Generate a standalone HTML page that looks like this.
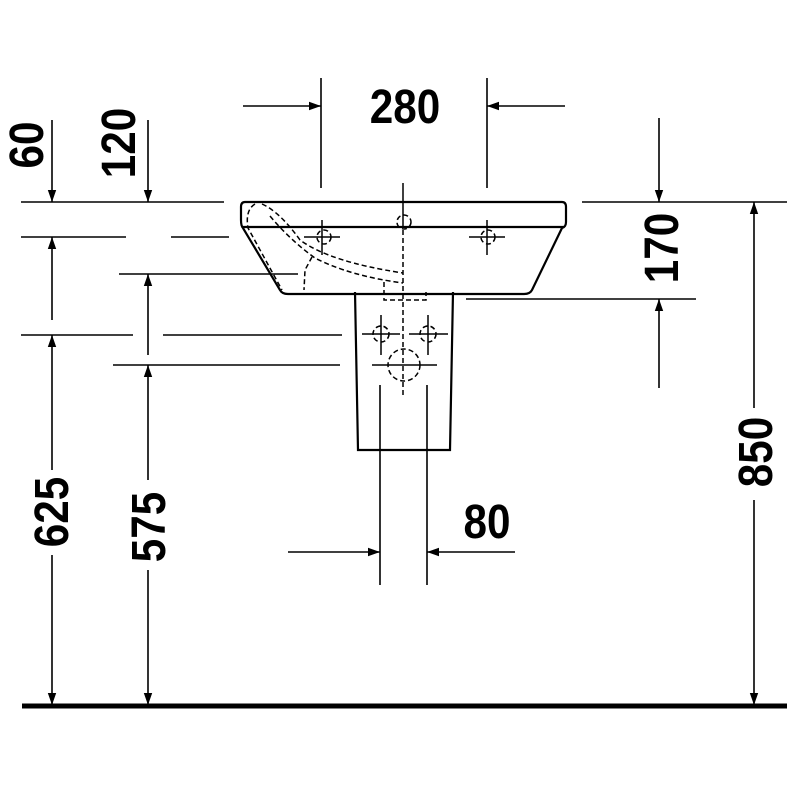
<!DOCTYPE html>
<html><head><meta charset="utf-8"><style>
html,body{margin:0;padding:0;background:#fff;}
svg{display:block;}
text{font-family:"Liberation Sans",sans-serif;font-weight:bold;font-size:48px;fill:#000;}
</style></head><body>
<svg width="788" height="788" viewBox="0 0 788 788" xmlns="http://www.w3.org/2000/svg">
<defs>
<marker id="a" viewBox="0 0 10 10" refX="10" refY="5" markerWidth="12" markerHeight="12" markerUnits="userSpaceOnUse" orient="auto"><path d="M0,1.5 L10,5 L0,8.5 Z" fill="#000"/></marker>
</defs>
<g stroke="#000" stroke-width="1.6" fill="none">
<!-- extension lines left -->
<line x1="21" y1="202" x2="224" y2="202"/>
<line x1="21" y1="237" x2="126" y2="237"/>
<line x1="171" y1="237" x2="229" y2="237"/>
<line x1="119" y1="274" x2="298" y2="274"/>
<line x1="21" y1="335" x2="133" y2="335"/>
<line x1="163" y1="335" x2="342" y2="335"/>
<line x1="113" y1="365" x2="340" y2="365"/>
<!-- left arrows -->
<line x1="52" y1="120" x2="52" y2="202" marker-end="url(#a)"/>
<line x1="52" y1="320" x2="52" y2="237" marker-end="url(#a)"/>
<line x1="52" y1="470" x2="52" y2="335" marker-end="url(#a)"/>
<line x1="52" y1="555" x2="52" y2="705" marker-end="url(#a)"/>
<line x1="148" y1="120" x2="148" y2="202" marker-end="url(#a)"/>
<line x1="148" y1="355" x2="148" y2="274" marker-end="url(#a)"/>
<line x1="148" y1="480" x2="148" y2="365" marker-end="url(#a)"/>
<line x1="148" y1="570" x2="148" y2="705" marker-end="url(#a)"/>
<!-- 280 -->
<line x1="321" y1="78" x2="321" y2="188"/>
<line x1="487" y1="78" x2="487" y2="188"/>
<line x1="243" y1="106" x2="321" y2="106" marker-end="url(#a)"/>
<line x1="565" y1="106" x2="487" y2="106" marker-end="url(#a)"/>
<!-- right -->
<line x1="582" y1="202" x2="787" y2="202"/>
<line x1="659" y1="118" x2="659" y2="202" marker-end="url(#a)"/>
<line x1="466" y1="299" x2="696" y2="299"/>
<line x1="659" y1="388" x2="659" y2="299" marker-end="url(#a)"/>
<line x1="754" y1="408" x2="754" y2="202" marker-end="url(#a)"/>
<line x1="754" y1="500" x2="754" y2="705" marker-end="url(#a)"/>
<!-- 80 -->
<line x1="380" y1="385" x2="380" y2="585"/>
<line x1="427" y1="385" x2="427" y2="585"/>
<line x1="288" y1="552" x2="380" y2="552" marker-end="url(#a)"/>
<line x1="515" y1="552" x2="427" y2="552" marker-end="url(#a)"/>
</g>
<!-- basin -->
<g stroke="#000" stroke-width="2.2" fill="none">
<path d="M245,202 L562,202 Q566,202 566,207 L566,222 Q566,227 562,228 L532,290 Q530,294 524,294 L288,294 Q282,294 280,290 L243,228 Q241,226 241,220 L241,207 Q241,202 245,202 Z"/>
<line x1="243" y1="227" x2="564" y2="227"/>
<path d="M355,292 L358,450 L450,450 L453,292"/>
</g>
<g stroke="#000" stroke-width="1.5" fill="none" stroke-dasharray="5,3">
<path d="M255,204 Q245,210 248,228 L282,290"/>
<path d="M262,204 Q280,212 300,240 Q330,262 403,273"/>
<path d="M270,216 Q290,240 315,258 Q350,276 403,283"/>
<path d="M312,257 L305,270 L304,290"/>
<path d="M384,282 L384,300 L426,300 L426,292"/>
<circle cx="404" cy="222" r="7"/>
<circle cx="324" cy="237" r="7"/>
<circle cx="488" cy="237" r="7"/>
<circle cx="381" cy="334" r="8"/>
<circle cx="428" cy="334" r="8"/>
<circle cx="404" cy="365" r="16"/>
<line x1="403" y1="230" x2="403" y2="397"/>
</g>
<g stroke="#000" stroke-width="1.5">
<line x1="403" y1="183" x2="403" y2="228"/>
<line x1="304" y1="237" x2="340" y2="237"/><line x1="322" y1="220" x2="322" y2="255"/>
<line x1="469" y1="237" x2="505" y2="237"/><line x1="487" y1="220" x2="487" y2="255"/>
<line x1="362" y1="334" x2="400" y2="334"/><line x1="381" y1="315" x2="381" y2="355"/>
<line x1="409" y1="334" x2="448" y2="334"/><line x1="428" y1="315" x2="428" y2="355"/>
<line x1="372" y1="365" x2="437" y2="365"/>
</g>
<!-- ground -->
<line x1="22" y1="706" x2="787" y2="706" stroke="#000" stroke-width="5"/>
<!-- labels -->
<text x="405" y="123" text-anchor="middle" transform="translate(405 0) scale(0.88 1) translate(-405 0)">280</text>
<text x="487" y="538" text-anchor="middle" transform="translate(487 0) scale(0.88 1) translate(-487 0)">80</text>
<g text-anchor="middle">
<text transform="translate(43 145) rotate(-90) scale(0.88 1)">60</text>
<text transform="translate(135 143) rotate(-90) scale(0.88 1)">120</text>
<text transform="translate(68 512) rotate(-90) scale(0.88 1)">625</text>
<text transform="translate(165 527) rotate(-90) scale(0.88 1)">575</text>
<text transform="translate(678 248) rotate(-90) scale(0.88 1)">170</text>
<text transform="translate(772 452) rotate(-90) scale(0.88 1)">850</text>
</g>
</svg>
</body></html>
